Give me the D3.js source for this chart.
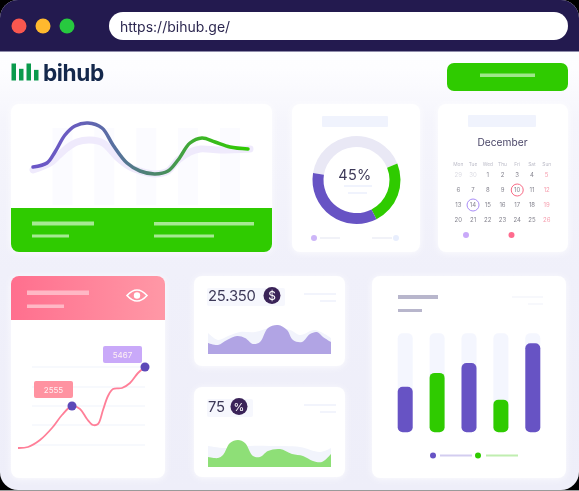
<!DOCTYPE html>
<html><head><meta charset="utf-8">
<style>html,body{margin:0;padding:0;background:#000;overflow:hidden}svg{display:block;filter:blur(0.45px)}text{font-family:Inter,"Noto Sans",sans-serif}</style>
<script src="https://cdn.jsdelivr.net/npm/d3@7"></script></head><body>
<svg id="c" width="579" height="491"></svg>
<script>
// ---------- data ----------
const urlText = "https://bihub.ge/";
const brandName = "bihub";
const logoBars = [16, 11, 16, 10];
const waveX = [0,14,22,32,42,55,69,80,94,107,122,135,145,157,169,182,197,215];
const waveY = [13,17,28,45,54,57,52,35,17,9,6,9,20,37,42,38,33,31];
const waveGhostX = [0,17,25,34,44,57,70,84,97,107,122,135,145,157,167,187,217];
const waveGhostY = [10,17,24,32,38,40,37,23,13,9,6,9,20,28,31,30,31];
const waveColumns = [0,1,2,3,4];
const donutLabel = "45%";
const donutValues = [41.4, 23.6, 35];
const calendarTitle = "December";
const weekdays = ["Mon","Tue","Wed","Thu","Fri","Sat","Sun"];
const calendarRows = [
  ["29","30","1","2","3","4","5"],
  ["6","7","8","9","10","11","12"],
  ["13","14","15","16","17","18","19"],
  ["20","21","22","23","24","25","26"]];
const lineX = [0,10,22,34,44,54,62,69,75,80,85,90,95,104,112,120,127];
const lineY = [12,13,20,32,45,54,51,41,35,36,50,64,71,72,77,87,93];
const lineGrid = [93,73,54,35,15];
const lineCallouts = [{i:5,label:"2555"},{i:16,label:"5467"}];
const revenueLabel = "25.350", revenueSymbol = "$";
const revenueX = [0,10,19,29,37,45,52,60,70,79,85,94,102,109,115,123];
const revenueY = [11,9,14,18,16,10,12,26,29,24,14,12,20,22,17,12];
const revenueGhostX = [0,10,20,32,47,62,82,92,107,123];
const revenueGhostY = [21,14,18,22,22,26,24,19,24,16];
const rateLabel = "75", rateSymbol = "%";
const rateX = [0,10,15,22,30,37,45,52,60,72,84,95,105,114,123];
const rateY = [10,9,12,24,27,24,11,10,16,18,13,11,6,5,13];
const rateGhostX = [0,17,42,62,92,112,123];
const rateGhostY = [21,19,21,21,20,15,19];
const barCategories = ["A","B","C","D","E"];
const barValues = [46,60,70,33,90];
const barSeries = ["p","g","p","g","p"];

// ---------- palette ----------
const NAVY="#231a4f", GREEN="#2fcb00", PURPLE="#6753c4", PALE="#f0f3fd", INK="#3d3958";

const svg = d3.select("#c");
const defs = svg.append("defs");
function grad(id,stops,vertical,user){
  const g=defs.append("linearGradient").attr("id",id);
  if(vertical) g.attr("x2",0).attr("y2",1);
  if(user){g.attr("gradientUnits","userSpaceOnUse").attr("x1",user[0]).attr("x2",user[1]).attr("y1",0).attr("y2",0);}
  stops.forEach(([o,c])=>g.append("stop").attr("offset",o).attr("stop-color",c));
}
grad("bg",[[0,"#ffffff"],[0.14,"#fdfdff"],[0.25,"#f5f5fc"],[0.55,"#f0f0fa"],[1,"#eeeef9"]],true);
grad("wave",[[0,"#6a55c7"],[0.18,"#6a5cc0"],[0.38,"#57709f"],[0.6,"#4a8b62"],[0.78,"#3cb526"],[1,GREEN]],false,[33,248]);
grad("pink",[[0,"#ff6f8e"],[1,"#ff98a6"]]);
const sh=defs.append("filter").attr("id","soft").attr("x","-20%").attr("y","-20%").attr("width","140%").attr("height","140%");
sh.append("feDropShadow").attr("dx",0).attr("dy",1).attr("stdDeviation",3).attr("flood-color","#ffffff").attr("flood-opacity",0.8);

const rect=(g,x0,y0,x1,y1,fill,r=0)=>g.append("rect").attr("x",x0).attr("y",y0).attr("width",x1-x0).attr("height",y1-y0).attr("fill",fill).attr("rx",r);
const label=(g,x,y,t,size,fill,anchor="start",weight=400)=>g.append("text").attr("x",x).attr("y",y).attr("font-size",size).attr("fill",fill).attr("text-anchor",anchor).attr("font-weight",weight).text(t);
const card=(x0,y0,x1,y1)=>rect(svg,x0,y0,x1,y1,"#fff",8).attr("filter","url(#soft)");

// ---------- window ----------
rect(svg,0,0,579,490,"url(#bg)",18);
svg.append("path").attr("d","M0 51V18A18 18 0 0 1 18 0H561A18 18 0 0 1 579 18V51Z").attr("fill",NAVY);
rect(svg,0,51,579,52,"#8f8cab");
rect(svg,0,490,579,491,"#9a9a9a");
[["#f9574f",19],["#ffb92e",43],["#27c93f",67]].forEach(([c,x])=>svg.append("circle").attr("cx",x).attr("cy",26).attr("r",7.5).attr("fill",c));
rect(svg,109,12,568,40,"#fff",14);
label(svg,120,31.5,urlText,14,"#2c2750");

// logo
const logoX=d3.scaleBand().domain(d3.range(logoBars.length)).range([11.5,38.5]).paddingInner(0.4);
const logoY=d3.scaleLinear().domain([0,16]).range([80.5,63.5]);
svg.append("g").selectAll("rect").data(logoBars).join("rect")
  .attr("x",(d,i)=>logoX(i)).attr("width",logoX.bandwidth())
  .attr("y",d=>logoY(d)).attr("height",d=>logoY(0)-logoY(d)).attr("fill","#0a9a4c");
label(svg,43,80.5,brandName,22.6,"#14284c","start",700).attr("letter-spacing",-0.4);

rect(svg,447,63,568,91,GREEN,7);
rect(svg,480,73.5,535,77,"#9fe78a");

// ---------- wave card ----------
card(11,104,272,252);
const waveColX=d3.scalePoint().domain(waveColumns).range([62.5,230]);
svg.append("g").selectAll("rect").data(waveColumns).join("rect")
  .attr("x",d=>waveColX(d)-10).attr("width",20).attr("y",128).attr("height",77).attr("fill","#fbfbff");
svg.append("path").attr("d","M11 208H272V244A8 8 0 0 1 264 252H19A8 8 0 0 1 11 244Z").attr("fill",GREEN);
const wx=d3.scaleLinear().domain([0,215]).range([33,248]);
const wy=d3.scaleLinear().domain([0,60]).range([180,120]);
const wl=d3.line().x(d=>wx(d[0])).y(d=>wy(d[1])).curve(d3.curveCatmullRom.alpha(0.5));
svg.append("path").attr("d",wl(d3.zip(waveGhostX,waveGhostY))).attr("fill","none").attr("stroke","#efeafc").attr("stroke-width",7).attr("stroke-linecap","round");
svg.append("path").attr("d",wl(d3.zip(waveX,waveY))).attr("fill","none").attr("stroke","url(#wave)").attr("stroke-width",3.5).attr("stroke-linecap","round");
[[32,94,221.5,225.5],[32,69,234.5,237.5],[154,254,222,225.5],[154,214,234.5,237.5]].forEach(([a,b,c,d])=>rect(svg,a,c,b,d,"#a6e993"));

// ---------- donut card ----------
card(292,104,420,252);
rect(svg,322,116,388,127,PALE,1);
const pie=d3.pie().sort(null).startAngle(279*Math.PI/180).endAngle((279+360)*Math.PI/180);
const arc=d3.arc().innerRadius(33).outerRadius(44);
const donutColors=["#e9e8f5",GREEN,PURPLE];
svg.append("g").attr("transform","translate(356.5,180)").selectAll("path").data(pie(donutValues)).join("path").attr("d",arc).attr("fill",(d,i)=>donutColors[i]);
label(svg,355,180,donutLabel,14.5,INK,"middle").attr("letter-spacing",0.3);
rect(svg,344,185,372,187,PALE);rect(svg,348,192,367,194,PALE);
svg.append("circle").attr("cx",314).attr("cy",238).attr("r",3).attr("fill","#cdb6f8");
rect(svg,320,237,340,239,"#f1f2f8");rect(svg,372,237,392,239,"#f1f2f8");
svg.append("circle").attr("cx",396).attr("cy",238).attr("r",3).attr("fill","#e8eefd");

// ---------- calendar card ----------
card(438,104,568,252);
rect(svg,468,115,536,127,PALE,1);
label(svg,502.5,146,calendarTitle,10.2,"#4a4668","middle");
const calX=d3.scalePoint().domain(d3.range(7)).range([458.3,546.7]);
const calY=d3.scalePoint().domain(d3.range(4)).range([175,220]);
const gCal=svg.append("g").attr("text-anchor","middle");
weekdays.forEach((w,i)=>label(gCal,calX(i),166,w,4.8,"#bcbcc8","middle"));
calendarRows.forEach((row,r)=>row.forEach((t,c)=>{
  const col=c===6?"#f6a0b0":(r===0&&c<2?"#dcdce3":"#85848f");
  label(gCal,calX(c),calY(r)+2.2,t,6,col,"middle");
}));
const calMarks=[{r:1,c:4,col:"#f86a85"},{r:2,c:1,col:"#a98cf7"}];
gCal.selectAll("circle").data(calMarks).join("circle").attr("cx",d=>calX(d.c)).attr("cy",d=>calY(d.r)).attr("r",6).attr("fill","none").attr("stroke",d=>d.col).attr("stroke-width",1);
svg.append("circle").attr("cx",466).attr("cy",235).attr("r",3).attr("fill","#c9a9f9");
svg.append("circle").attr("cx",511.5).attr("cy",235).attr("r",3).attr("fill","#ff6b8e");

// ---------- pink line card ----------
card(11,276,165,478);
svg.append("path").attr("d","M11 320V284A8 8 0 0 1 19 276H157A8 8 0 0 1 165 284V320Z").attr("fill","url(#pink)");
rect(svg,27,290.5,89,295,"#ffb8c5");rect(svg,27,304.5,64,308,"#ffb8c5");
const eye=svg.append("g").attr("transform","translate(137,295.5)");
eye.append("path").attr("d","M-10 0Q0 -11 10 0Q0 11 -10 0Z").attr("fill","none").attr("stroke","#fff").attr("stroke-width",1.6);
eye.append("circle").attr("r",3.2).attr("fill","#fff");
const lx=d3.scaleLinear().domain([0,127]).range([18,145]);
const ly=d3.scaleLinear().domain([0,100]).range([460,360]);
svg.append("g").selectAll("line").data(lineGrid).join("line").attr("x1",32).attr("x2",145).attr("y1",d=>ly(d)).attr("y2",d=>ly(d)).attr("stroke","#f5f7fd").attr("stroke-width",1.5);
svg.append("path").attr("d",d3.line().x(d=>lx(d[0])).y(d=>ly(d[1])).curve(d3.curveCatmullRom.alpha(0.5))(d3.zip(lineX,lineY))).attr("fill","none").attr("stroke","#ff7f98").attr("stroke-width",1.8);
const calloutFill=["#ff93a1","#c9a9f9"], calloutDx=[-38,-42], calloutDy=[-25,-21];
lineCallouts.forEach((c,i)=>{
  const x=lx(lineX[c.i]), y=ly(lineY[c.i]);
  svg.append("circle").attr("cx",x).attr("cy",y).attr("r",4.5).attr("fill","#5d49b8");
  rect(svg,x+calloutDx[i],y+calloutDy[i],x+calloutDx[i]+39,y+calloutDy[i]+17,calloutFill[i],2);
  label(svg,x+calloutDx[i]+19.5,y+calloutDy[i]+11.6,c.label,8,"#fff1f3","middle");
});

// ---------- small area cards ----------
function areaCard(y0,baseline,valueText,symbol,symbolX,chipEnd,xs,ys,ghostXs,ghostYs,fill){
  card(194,y0,345,y0+90);
  rect(svg,207,y0+12,chipEnd,y0+30,"#f6f7fd",2);
  label(svg,208,y0+25,valueText,14.8,INK).attr("letter-spacing",-0.2);
  svg.append("circle").attr("cx",symbolX).attr("cy",y0+19.5).attr("r",8.5).attr("fill","#3a2358");
  label(svg,symbolX,y0+24,symbol,symbol==="%"?11:12,"#fff","middle");
  rect(svg,304,y0+17,336,y0+19,"#f2f4fc");rect(svg,320,y0+24,336,y0+26,"#f2f4fc");
  const x=d3.scaleLinear().domain([0,123]).range([208,331]);
  const y=d3.scaleLinear().domain([0,40]).range([baseline,baseline-40]);
  const a=d3.area().x(d=>x(d[0])).y0(y(0)).y1(d=>y(d[1])).curve(d3.curveCatmullRom.alpha(0.5));
  svg.append("path").attr("d",a(d3.zip(ghostXs,ghostYs))).attr("fill","#f2f4fc");
  svg.append("path").attr("d",a(d3.zip(xs,ys))).attr("fill",fill);
}
areaCard(276,354,revenueLabel,revenueSymbol,272,285,revenueX,revenueY,revenueGhostX,revenueGhostY,"#b1a4e4");
areaCard(387,467,rateLabel,rateSymbol,239,253,rateX,rateY,rateGhostX,rateGhostY,"#8edf77");

// ---------- bar card ----------
card(372,276,566,478);
rect(svg,398,295,438,299,"#b8b6cc");rect(svg,398,309,422,312,"#b8b6cc");
rect(svg,512,296,543,298,"#f7f8fc");rect(svg,528,303,543,305,"#f7f8fc");
const bx=d3.scalePoint().domain(barCategories).range([405.2,532.8]);
const by=d3.scaleLinear().domain([0,100]).range([432.3,333.3]);
const colorOf={p:PURPLE,g:GREEN};
const gb=svg.append("g");
gb.selectAll("rect.t").data(barCategories).join("rect").attr("class","t").attr("x",d=>bx(d)-7.5).attr("width",15).attr("y",by(100)).attr("height",by(0)-by(100)).attr("fill","#f4f6fe").attr("rx",5);
gb.selectAll("rect.v").data(barValues).join("rect").attr("class","v").attr("x",(d,i)=>bx(barCategories[i])-7.5).attr("width",15).attr("y",d=>by(d)).attr("height",d=>by(0)-by(d)).attr("fill",(d,i)=>colorOf[barSeries[i]]).attr("rx",5);
svg.append("circle").attr("cx",433).attr("cy",455.5).attr("r",3).attr("fill",PURPLE);
rect(svg,440,454.5,472,456.5,"#d3cdf0");
svg.append("circle").attr("cx",478).attr("cy",455.5).attr("r",3).attr("fill",GREEN);
rect(svg,486,454.5,518,456.5,"#c0eeb0");
</script></body></html>
